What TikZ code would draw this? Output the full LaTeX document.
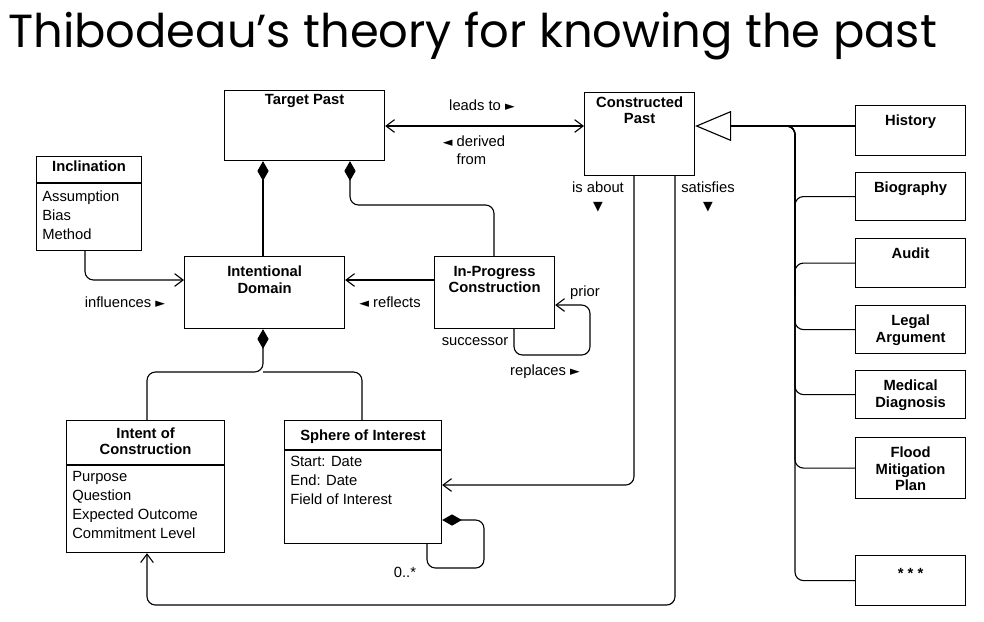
\documentclass[tikz,border=0pt]{standalone}
\usepackage{fontspec}
\setmainfont{Liberation Sans}
\newfontfamily\titlefont{Poppins}
\newfontfamily\symfont{DejaVu Sans}
\usetikzlibrary{arrows.meta, positioning}
\tikzset{
  cls/.style={rectangle, draw=black, line width=0.8pt, fill=white, anchor=north west, inner sep=0pt},
  head/.style={font=\fontsize{10.5}{11.5}\selectfont\bfseries, align=center, inner sep=1pt},
  attr/.style={font=\fontsize{10.5}{13.5}\selectfont, align=left, anchor=north west, inner sep=0pt},
  lbl/.style={font=\fontsize{10.5}{12.5}\selectfont, inner sep=1pt, align=left},
  conn/.style={line width=0.8pt, rounded corners=6pt},
  nav/.style={conn, -{Straight Barb[length=6pt, width=9pt]}},
  both/.style={conn, {Straight Barb[length=6pt, width=9pt]}-{Straight Barb[length=6pt, width=9pt]}},
  comp/.style={conn, {Diamond[length=14pt, width=8pt]}-},
  gen/.style={conn, -{Triangle[open, length=0.9cm, width=0.75cm, fill=white]}}
}
\newcommand{\rgt}{{\symfont\fontsize{9}{10}\selectfont ►}}
\newcommand{\lft}{{\symfont\fontsize{9}{10}\selectfont ◄}}
\newcommand{\dwn}{{\symfont\fontsize{9}{10}\selectfont ▼}}
\begin{document}
\begin{tikzpicture}[x=0.025cm, y=-0.025cm]
\useasboundingbox (0,0) rectangle (984,621);

% Title
\node[anchor=west, inner sep=0pt, font=\titlefont\fontsize{33}{38}\selectfont] (title) at (8,36) {Thibodeau’s theory for knowing the past};

% Classes
\node[cls, minimum width=4cm, minimum height=1.75cm] (tp) at (224,90) {};
\node[head, below=2pt of tp.north] {Target Past};
\node[cls, minimum width=2.75cm, minimum height=2.075cm] (cp) at (584,92) {};
\node[head, below=2pt of cp.north] {Constructed\\Past};
\node[cls, minimum width=2.625cm, minimum height=2.35cm] (inc) at (36,156) {};
\node[head, below=2pt of inc.north] {Inclination};
\draw[line width=0.8pt] (36,183) -- (141,183);
\node[attr] at (42,191) {Assumption\\Bias\\Method};
\node[cls, minimum width=4cm, minimum height=1.8cm] (dom) at (184,256) {};
\node[head, below=6pt of dom.north] {Intentional\\Domain};
\node[cls, minimum width=3cm, minimum height=1.8cm] (ipc) at (434,256) {};
\node[head, below=6pt of ipc.north] {In-Progress\\Construction};
\node[cls, minimum width=3.95cm, minimum height=3.3cm] (ioc) at (66,420) {};
\node[head, below=4pt of ioc.north] {Intent of\\Construction};
\draw[line width=0.8pt] (66,465) -- (224,465);
\node[attr] at (72,471) {Purpose\\Question\\Expected Outcome\\Commitment Level};
\node[cls, minimum width=3.925cm, minimum height=3.075cm] (soi) at (284,420) {};
\node[head, below=6pt of soi.north] {Sphere of Interest};
\draw[line width=0.8pt] (284,450) -- (441,450);
\node[attr] at (290,456) {Start: Date\\End: Date\\Field of Interest};

% Kinds of constructed past
\node[cls, minimum width=2.75cm, minimum height=1.25cm] (hist) at (855,105) {};
\node[head, below=6pt of hist.north] {History};
\node[cls, minimum width=2.75cm, minimum height=1.2cm] (bio) at (855,172) {};
\node[head, below=6pt of bio.north] {Biography};
\node[cls, minimum width=2.75cm, minimum height=1.225cm] (aud) at (855,238) {};
\node[head, below=6pt of aud.north] {Audit};
\node[cls, minimum width=2.75cm, minimum height=1.2cm] (leg) at (855,305) {};
\node[head, below=6pt of leg.north] {Legal\\Argument};
\node[cls, minimum width=2.75cm, minimum height=1.2cm] (med) at (855,370) {};
\node[head, below=6pt of med.north] {Medical\\Diagnosis};
\node[cls, minimum width=2.75cm, minimum height=1.525cm] (fmp) at (855,437) {};
\node[head, below=6pt of fmp.north] {Flood\\Mitigation\\Plan};
\node[cls, minimum width=2.75cm, minimum height=1.25cm] (etc) at (855,555) {};
\node[head, below=8pt of etc.north] {* * *};

% Generalization
\coordinate (trunk) at (730,126);
\draw[gen] (hist.west |- trunk) -- (cp.east |- trunk);
\foreach \k in {bio, aud, leg, med, fmp, etc}
  \draw[conn] (trunk) -| (795,300) |- (\k.west);

% Associations
\draw[both] (tp.east |- 0,126) -- (cp.west |- 0,126);
\node[lbl] at (482,105) {leads to \rgt};
\node[lbl] at (474,150) {\lft{} derived\\\phantom{\lft{} }from};
\draw[comp] (tp.south -| 263,0) -- (dom.north -| 263,0);
\draw[comp] (tp.south -| 350,0) |- (494,205) -- (ipc.north -| 494,0);
\draw[nav] (ipc.west |- 0,280) -- (dom.east |- 0,280);
\node[lbl] at (390,302) {\lft{} reflects};
\draw[nav] (inc.south -| 85,0) |- (dom.west |- 0,280);
\node[lbl] at (125,302) {influences \rgt};
\draw[nav] (ipc.south -| 514,0) |- (590,355) |- (ipc.east |- 0,305);
\node[lbl] at (585,293) {prior};
\node[lbl] at (475,342) {successor};
\node[lbl] at (545,372) {replaces \rgt};
\draw[comp] (dom.south -| 263,0) -- (263,372) -| (ioc.north -| 147,0);
\draw[conn] (263,372) -| (soi.north -| 362,0);
\draw[nav] (cp.south -| 634,0) |- (soi.east |- 0,485);
\node[lbl, align=center] at (598,197) {is about\\\dwn};
\draw[nav] (cp.south -| 675,0) |- (147,605) -- (ioc.south -| 147,0);
\node[lbl, align=center] at (708,197) {satisfies\\\dwn};
\draw[comp] (soi.east |- 0,520) -| (484,568) -| (soi.south -| 427,0);
\node[lbl] at (405,572) {0..*};
\end{tikzpicture}
\end{document}
